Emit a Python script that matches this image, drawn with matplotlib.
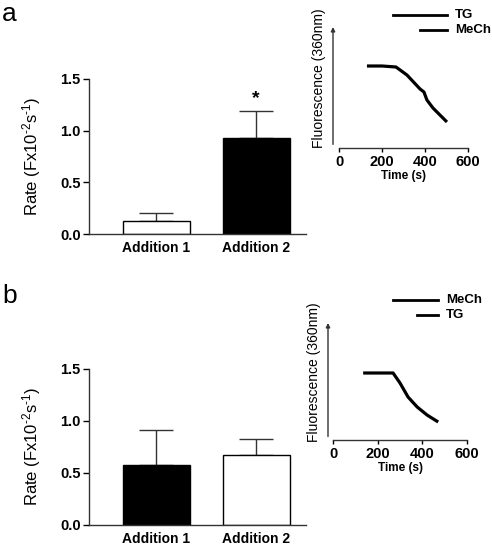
import numpy as np
import matplotlib
matplotlib.use("Agg")
import matplotlib.pyplot as plt
from matplotlib.transforms import ScaledTranslation

plt.rcParams['font.family'] = ['Liberation Sans', 'DejaVu Sans']
plt.rcParams['mathtext.fontset'] = 'custom'
plt.rcParams['mathtext.rm'] = 'Liberation Sans'
plt.rcParams['mathtext.it'] = 'Liberation Sans:italic'
plt.rcParams['mathtext.bf'] = 'Liberation Sans:bold'

# bar data (rate, F x10^-2 s^-1)
groups = ['Addition 1', 'Addition 2']
rate_a = [0.13, 0.93]
err_a = [0.07, 0.26]
colors_a = ['white', 'black']
rate_b = [0.58, 0.67]
err_b = [0.33, 0.16]
colors_b = ['black', 'white']

# inset fluorescence traces (arbitrary units)
trace_a_t = [130, 200, 265, 316, 377, 395, 409, 437, 502]
trace_a_f = [82, 82, 81, 73, 59, 56, 48, 40, 26]
trace_b_t = [135, 200, 269, 300, 336, 377, 421, 471]
trace_b_f = [67, 67, 67, 57, 43, 33, 25, 18]
time_ticks = [0, 200, 400, 600]

legend_a = ['TG', 'MeCh']
legend_b = ['MeCh', 'TG']

W, H = 492, 546
fig = plt.figure(figsize=(W / 100, H / 100), dpi=100)


def px_rect(left, top, right, bottom):
    return [left / W, 1 - bottom / H, (right - left) / W, (bottom - top) / H]


def bar_panel(rect, vals, errs, cols, star=False):
    ax = fig.add_axes(rect)
    x = np.arange(len(vals))
    ax.bar(x, vals, width=0.67, color=cols, edgecolor='black', linewidth=1, zorder=2)
    ax.errorbar(x, vals, yerr=[np.zeros(len(errs)), errs], fmt='none',
                ecolor='#333333', elinewidth=1, capsize=12, capthick=1, zorder=1)
    if star:
        i = int(np.argmax(vals))
        ax.text(x[i], vals[i] + errs[i] + 0.04, '*', ha='center', va='bottom',
                fontsize=14, fontweight='bold')
    ax.set_xlim(-0.67, 1.5)
    ax.set_ylim(0, 1.5)
    ax.set_yticks([0, 0.5, 1.0, 1.5])
    ax.set_yticklabels(['0.0', '0.5', '1.0', '1.5'], fontsize=10.5, fontweight='bold')
    ax.set_xticks(x)
    ax.set_xticklabels(groups, fontsize=10, fontweight='bold')
    ax.tick_params(axis='x', length=0, pad=5)
    ax.tick_params(axis='y', length=4, width=1, direction='out', pad=2)
    for s in ['top', 'right']:
        ax.spines[s].set_visible(False)
    for s in ['left', 'bottom']:
        ax.spines[s].set_linewidth(1)
        ax.spines[s].set_color('#333333')
    ax.set_ylabel(r'Rate (Fx10$^{\text{-}2}$s$^{\text{-}1}$)', fontsize=12)
    ax.yaxis.set_label_coords(-0.21, 0.5)
    return ax


def trace_panel(rect, t, f, ymax, off_px, labels, leg, ylab_x):
    ax = fig.add_axes(rect)
    ax.plot(t, f, color='black', lw=2.3, solid_capstyle='butt', clip_on=False)
    ax.set_xlim(0, 600)
    ax.set_ylim(0, ymax)
    ax.set_xticks(time_ticks)
    ax.set_xticklabels([str(v) for v in time_ticks], fontsize=10.5, fontweight='bold')
    ax.tick_params(axis='x', length=3, width=1, pad=2)
    ax.set_yticks([])
    for s in ['top', 'right', 'left']:
        ax.spines[s].set_visible(False)
    ax.spines['bottom'].set_linewidth(1)
    ax.spines['bottom'].set_color('#333333')
    ax.set_xlabel('Time (s)', fontsize=8.5, fontweight='bold', labelpad=1)
    ax.set_ylabel('Fluorescence (360nm)', fontsize=10)
    ax.yaxis.set_label_coords(ylab_x, 0.58)
    # arrowed y axis, offset to the left
    tr = ax.transAxes + ScaledTranslation(-off_px / 100, 0, fig.dpi_scale_trans)
    ax.annotate('', xy=(0, 1.0), xytext=(0, 0.03), xycoords=tr, textcoords=tr,
                arrowprops=dict(arrowstyle='-|>', lw=1, color='#333333',
                                mutation_scale=6, shrinkA=0, shrinkB=0))
    # legend lines of differing length
    for (x0, x1, y), lab in zip(leg, labels):
        ax.plot([x0, x1], [y, y], color='black', lw=2, transform=ax.transAxes,
                clip_on=False)
        ax.text(leg[0][1] + 0.06, y, lab, transform=ax.transAxes, fontsize=9.5,
                fontweight='bold', va='center', ha='left')
    return ax


bar_panel(px_rect(89, 79, 306, 234), rate_a, err_a, colors_a, star=True)
bar_panel(px_rect(89, 369, 306, 525), rate_b, err_b, colors_b)

trace_panel(px_rect(339, 27, 468, 148), trace_a_t, trace_a_f, 121, 6, legend_a,
            [(0.419, 0.837, 1.099), (0.628, 0.837, 0.975)], -0.10)
trace_panel(px_rect(333, 323, 467, 440), trace_b_t, trace_b_f, 117, 5, legend_b,
            [(0.448, 0.784, 1.197), (0.627, 0.784, 1.068)], -0.09)

fig.text(2 / W, 1 - 21 / H, 'a', fontsize=19)
fig.text(2 / W, 1 - 303 / H, 'b', fontsize=19)

fig.savefig('out.png', dpi=100)
